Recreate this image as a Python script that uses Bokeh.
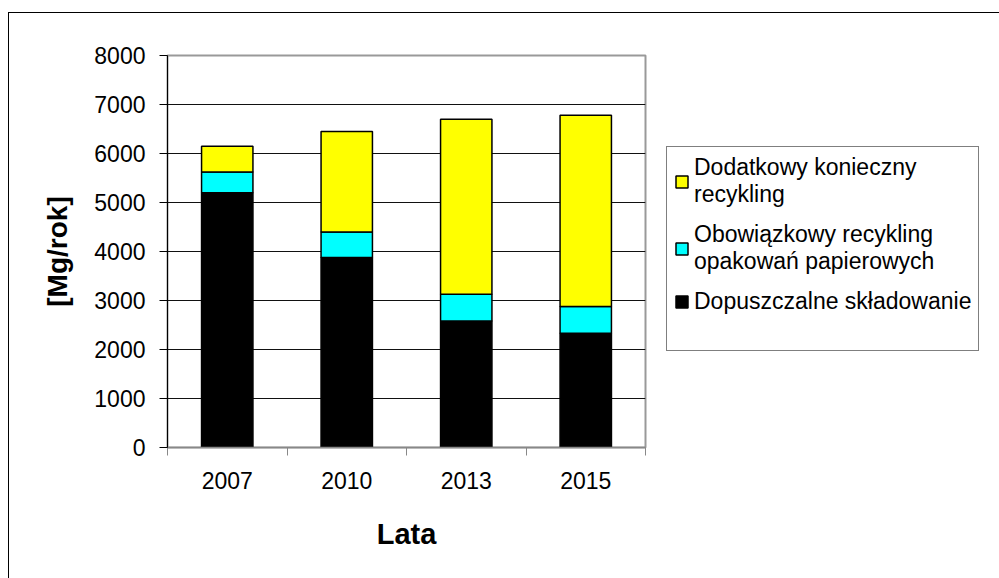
import numpy as np
from bokeh.plotting import figure
from bokeh.models import (ColumnDataSource, Range1d, FixedTicker, Legend, LegendItem)
from bokeh.embed import file_html
from bokeh.resources import INLINE

years = ["2007", "2010", "2013", "2015"]
skladowanie = [5200, 3880, 2580, 2330]
obowiazkowy = [420, 520, 550, 550]
dodatkowy = [530, 2050, 3570, 3900]
y_ticks = [0, 1000, 2000, 3000, 4000, 5000, 6000, 7000, 8000]

series = ["skladowanie", "obowiazkowy", "dodatkowy"]
labels = ["Dopuszczalne składowanie",
          "Obowiązkowy recykling\nopakowań papierowych",
          "Dodatkowy konieczny\nrecykling"]
colors = ["#000000", "#00FFFF", "#FFFF00"]

xpos = np.arange(len(years)) + 0.5
src = ColumnDataSource(dict(x=xpos, skladowanie=skladowanie,
                            obowiazkowy=obowiazkowy, dodatkowy=dodatkowy))

FONT = "Liberation Sans"

p = figure(frame_width=478, frame_height=392, output_backend="svg", toolbar_location=None,
           x_range=Range1d(0, len(years)), y_range=Range1d(0, 8000),
           min_border_left=158, min_border_right=0,
           min_border_top=42, min_border_bottom=132)
p.styles = {"border-left": "1px solid black", "border-top": "1px solid black",
            "border-right": "1px solid black", "margin-top": "12px",
            "margin-left": "8px"}

rs = p.vbar_stack(series, x="x", width=0.43, source=src, color=colors,
                  line_color="black", line_width=1.5)

p.outline_line_color = "#999999"
p.outline_line_width = 2
p.xgrid.grid_line_color = None
p.ygrid.grid_line_color = "#111111"
p.ygrid.grid_line_width = 1

p.yaxis.ticker = FixedTicker(ticks=y_ticks)
p.yaxis.axis_line_color = "black"
p.yaxis.major_tick_line_color = "black"
p.yaxis.major_tick_out = 8
p.yaxis.major_tick_in = 0
p.yaxis.minor_tick_line_color = None
p.yaxis.major_label_text_font = FONT
p.yaxis.major_label_text_font_size = "23px"
p.yaxis.major_label_text_color = "black"
p.yaxis.major_label_standoff = 14
p.yaxis.axis_label = "[Mg/rok]"
p.yaxis.axis_label_text_font = FONT
p.yaxis.axis_label_text_font_size = "28px"
p.yaxis.axis_label_text_font_style = "bold"
p.yaxis.axis_label_text_color = "black"
p.yaxis.axis_label_standoff = 18

p.xaxis.ticker = FixedTicker(ticks=list(xpos), minor_ticks=list(range(len(years) + 1)))
p.xaxis.major_label_overrides = {float(x): y for x, y in zip(xpos, years)}
p.xaxis.axis_line_color = "#888888"
p.xaxis.axis_line_width = 1.5
p.xaxis.major_tick_line_color = None
p.xaxis.minor_tick_line_color = "#888888"
p.xaxis.minor_tick_out = 8
p.xaxis.minor_tick_in = 0
p.xaxis.major_label_text_font = FONT
p.xaxis.major_label_text_font_size = "23px"
p.xaxis.major_label_text_color = "black"
p.xaxis.major_label_standoff = 16
p.xaxis.axis_label = "Lata"
p.xaxis.axis_label_text_font = FONT
p.xaxis.axis_label_text_font_size = "29px"
p.xaxis.axis_label_text_font_style = "bold"
p.xaxis.axis_label_text_color = "black"
p.xaxis.axis_label_standoff = 26

items = [LegendItem(label=labels[i], renderers=[rs[i]]) for i in [2, 1, 0]]
items.append(LegendItem(label=" ", renderers=[]))
legend = Legend(items=items, location=(21, 96), margin=0)
legend.border_line_color = "black"
legend.border_line_width = 1
legend.background_fill_color = "white"
legend.background_fill_alpha = 1
legend.label_text_font = FONT
legend.label_text_font_size = "23px"
legend.label_text_color = "black"
legend.glyph_width = 15
legend.glyph_height = 15
legend.label_standoff = 5
legend.padding = 7
legend.spacing = 13
p.add_layout(legend, "right")

open("out.html", "w").write(file_html(p, INLINE))
